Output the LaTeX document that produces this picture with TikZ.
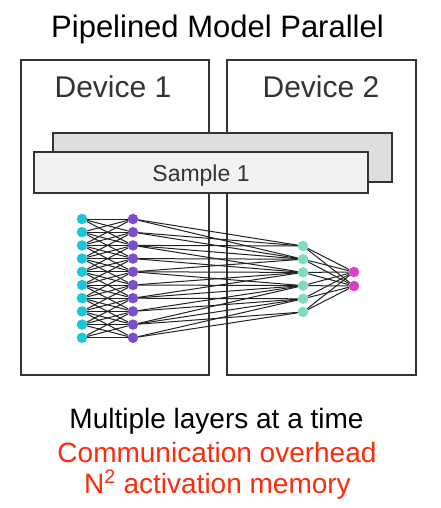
\documentclass[tikz,border=0pt]{standalone}
\usepackage{fontspec}
\setmainfont{Liberation Sans}
\definecolor{boxline}{HTML}{333333}
\definecolor{textgray}{HTML}{333333}
\definecolor{backfill}{HTML}{DDDDDD}
\definecolor{frontfill}{HTML}{F2F2F2}
\definecolor{alertred}{HTML}{FF2A0A}
\definecolor{cyanN}{HTML}{1CC6DA}
\definecolor{purpleN}{HTML}{7A4FCB}
\definecolor{mintN}{HTML}{7EDDC0}
\definecolor{magentaN}{HTML}{DD3FC8}
\definecolor{edgeline}{HTML}{222222}
\begin{document}
\begin{tikzpicture}[x=1pt,y=-1pt]
	\tikzset{
	  DeviceStyle/.style = { draw=boxline, line width=2.2pt, inner sep=0pt },
	  BatchStyle/.style = { draw=boxline, line width=2pt, inner sep=0pt },
	  LabelStyle/.style = { anchor=base, text=textgray, font=\fontsize{30}{36}\selectfont },
	  NoteStyle/.style = { anchor=base, font=\fontsize{28}{34}\selectfont },
	  NeuronStyle/.style = { circle, inner sep=0pt, minimum size=10.5pt },
	  EdgeStyle/.style = { draw=edgeline, line width=1pt } }
	\useasboundingbox (0,0) rectangle (440,508);
	\node[anchor=base, font=\fontsize{31}{37}\selectfont] (title) at (217.5,38) {Pipelined Model Parallel};
	\node[DeviceStyle, minimum width=188pt, minimum height=315pt] (dev1) at (115,217.5) {};
	\node[DeviceStyle, minimum width=189pt, minimum height=315pt] (dev2) at (321.5,217.5) {};
	\node[LabelStyle] (lab1) at (113,98) {Device 1};
	\node[LabelStyle] (lab2) at (321,98) {Device 2};
	\node[BatchStyle, fill=backfill, line width=2.6pt, minimum width=339pt, minimum height=49pt] (back) at (222.5,157.5) {};
	\node[BatchStyle, fill=frontfill, minimum width=334pt, minimum height=41pt] (front) at (201,172.5) {};
	\node[LabelStyle, font=\fontsize{23}{28}\selectfont] (sample) at (201,181) {Sample 1};
	\foreach \i in {1,...,10} {
	  \node[NeuronStyle, fill=cyanN] (a\i) at (82,{219+13.2*(\i-1)}) {};
	  \node[NeuronStyle, fill=purpleN] (b\i) at (133,{219+13.2*(\i-1)}) {};
	}
	\foreach \k in {1,...,6}
	  \node[NeuronStyle, fill=mintN] (c\k) at (303,{246+13.2*(\k-1)}) {};
	\node[NeuronStyle, fill=magentaN] (d1) at (354,272) {};
	\node[NeuronStyle, fill=magentaN] (d2) at (354,286) {};
	\foreach \i in {1,...,10}
	  \foreach \j in {1,...,10} {
	    \pgfmathtruncatemacro\near{abs(\i-\j)<3}
	    \ifnum\near=1 \draw[EdgeStyle] (a\i) -- (b\j); \fi
	  }
	\foreach \j in {1,...,10}
	  \foreach \k in {1,...,6} {
	    \pgfmathtruncatemacro\near{abs(\j-(1.8*\k-0.3))<=2.4}
	    \ifnum\near=1 \draw[EdgeStyle] (b\j) -- (c\k); \fi
	  }
	\foreach \k in {1,...,6} {
	  \draw[EdgeStyle] (c\k) -- (d1);
	  \draw[EdgeStyle] (c\k) -- (d2);
	}
	\node[NoteStyle] (note1) at (216.5,428) {Multiple layers at a time};
	\node[NoteStyle, text=alertred] (note2) at (217,462) {Communication overhead};
	\node[NoteStyle, text=alertred] (note3) at (217.5,493) {N\textsuperscript{2} activation memory};
\end{tikzpicture}
\end{document}
